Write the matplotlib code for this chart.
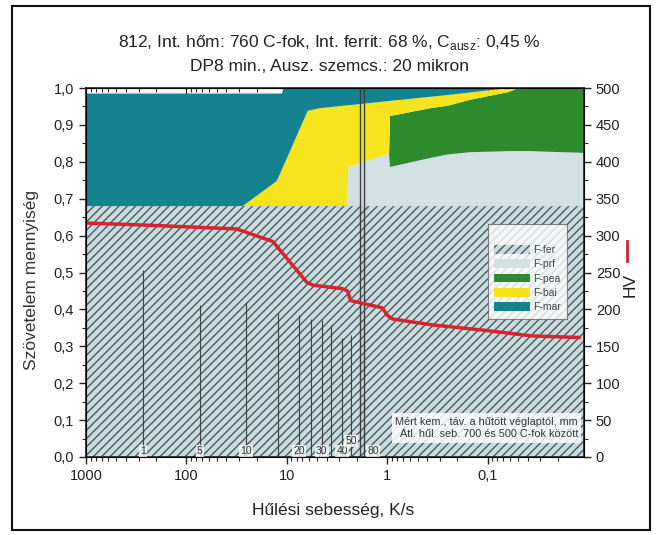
import matplotlib
matplotlib.use('Agg')
import matplotlib.pyplot as plt
from matplotlib.ticker import MultipleLocator, FuncFormatter, LogLocator, NullFormatter
from matplotlib.patches import Rectangle
from matplotlib.lines import Line2D

plt.rcParams['font.family'] = ['Liberation Sans', 'DejaVu Sans']
plt.rcParams['mathtext.fontset'] = 'custom'
plt.rcParams['mathtext.rm'] = 'Liberation Sans'
plt.rcParams['hatch.linewidth'] = 1.0

# cooling rate (K/s) and phase fractions
rate = [1000, 27.5, 12.6, 11.2, 10.8, 6.2, 4.8, 2.5, 2.45, 1.02, 0.96, 0.94,
        0.38, 0.25, 0.15, 0.06, 0.05, 0.038, 0.011]
fer = [0.68] * len(rate)
prf = [0, 0, 0, 0, 0, 0, 0, 0, 0.106, 0.14, 0.14, 0.106,
       0.13, 0.14, 0.146, 0.149, 0.149, 0.149, 0.144]
pea = [0, 0, 0, 0, 0, 0, 0, 0, 0, 0, 0, 0.138,
       0.135, 0.132, 0.142, 0.161, 0.171, 0.171, 0.176]
bai = [0, 0, 0.068, 0.099, 0.109, 0.258, 0.265, 0.273, 0.167, 0.144, 0.145, 0.041,
       0.031, 0.029, 0.02, 0.01, 0, 0, 0]
mar = [0.305, 0.305, 0.237, 0.206, 0.211, 0.062, 0.055, 0.047, 0.047, 0.036, 0.035, 0.035,
       0.024, 0.019, 0.012, 0, 0, 0, 0]
phase_names = ['F-fer', 'F-prf', 'F-pea', 'F-bai', 'F-mar']

# hardness curve
hv_rate = [1000, 231, 31.6, 13.8, 6.35, 5.55, 2.79, 2.49, 2.32, 1.12, 1.0, 0.89,
           0.356, 0.113, 0.036, 0.0123]
hv = [317, 314, 309, 292, 237, 233, 228, 225, 212, 202, 192, 187, 179, 172, 164, 162]

# jominy positions (mm), their cooling rate and measured hardness
jom_mm = [1, 5, 10, 15, 20, 25, 30, 35, 40, 50]
jom_rate = [271, 74, 25.7, 12.3, 7.6, 5.7, 4.5, 3.6, 2.8, 2.3]
jom_hv = [253, 206, 210, 195, 192, 187, 185, 179, 161, 165]
jom_labels = [1, 5, 10, 20, 30, 40, 50]
jom80_rate = [1.85, 1.69]

colors = ['#c8dcdf', '#d2dfe3', '#2d8a2d', '#f6e51e', '#15838f']

fig = plt.figure(figsize=(6.59, 5.35), dpi=100)
ax = fig.add_axes([0.1305, 0.1458, 0.7557, 0.6897])

polys = ax.stackplot(rate, fer, prf, pea, bai, mar, colors=colors,
                     labels=phase_names, linewidth=0)
polys[0].set_hatch('////')
polys[0].set_edgecolor('#4c5a60')
polys[0].set_linewidth(0)

ax.set_xscale('log')
ax.set_xlim(1000, 0.011)
ax.set_ylim(0, 1)

comma = lambda v, p: ('%g' % v).replace('.', ',')
ax.xaxis.set_major_locator(LogLocator(base=10))
ax.xaxis.set_major_formatter(FuncFormatter(comma))
ax.xaxis.set_minor_locator(LogLocator(base=10, subs=range(2, 10)))
ax.xaxis.set_minor_formatter(NullFormatter())
ax.yaxis.set_major_locator(MultipleLocator(0.1))
ax.yaxis.set_minor_locator(MultipleLocator(0.05))
ax.yaxis.set_major_formatter(FuncFormatter(lambda v, p: ('%.1f' % v).replace('.', ',')))
ax.tick_params(which='major', direction='out', length=5, width=1, labelsize=10.5, colors='#222')
ax.tick_params(which='minor', direction='out', length=3, width=0.8, colors='#222')

top = ax.secondary_xaxis('top')
top.tick_params(which='major', direction='in', length=5, labeltop=False)
top.tick_params(which='minor', direction='in', length=3)
top.xaxis.set_major_formatter(NullFormatter())

for s in ax.spines.values():
    s.set_linewidth(1.2)
    s.set_color('#222')

ax.set_ylabel('Szövetelem mennyiség', fontsize=12.5, color='#333')
ax.yaxis.set_label_coords(-0.095, 0.48)
ax.set_xlabel('Hűlési sebesség, K/s', fontsize=12.5, color='#222')
ax.xaxis.set_label_coords(0.496, -0.125)

ax2 = ax.twinx()
ax2.set_ylim(0, 500)
ax2.yaxis.set_major_locator(MultipleLocator(50))
ax2.yaxis.set_minor_locator(MultipleLocator(25))
ax2.tick_params(which='major', direction='out', length=5, width=1, labelsize=10.5, colors='#222')
ax2.tick_params(which='minor', direction='out', length=3, width=0.8, colors='#222')

ax2.vlines(jom_rate, 0, jom_hv, color='#3a3f42', lw=0.8)
ax2.vlines(jom80_rate, 0, 500, color='#3a3f42', lw=1.0)
for mm, r in zip(jom_mm, jom_rate):
    if mm in jom_labels:
        ax2.text(r, 22 if mm == 50 else 8, str(mm), fontsize=7.5, ha='center', va='center',
                 color='#333', bbox=dict(facecolor='white', alpha=0.75, edgecolor='none', pad=0.8))
ax2.text(jom80_rate[1] * 0.93, 8, '80', fontsize=7.5, ha='left', va='center', color='#333',
         bbox=dict(facecolor='white', alpha=0.75, edgecolor='none', pad=0.8))

ax2.plot(hv_rate, hv, color='#d8232c', lw=2.5)

ax2.set_ylabel('HV', fontsize=12.5, color='#222', rotation=90)
ax2.yaxis.set_label_coords(1.078, 0.465)
ax2.add_line(Line2D([1.086, 1.086], [0.53, 0.585], transform=ax2.transAxes,
                    color='#d8232c', lw=2, clip_on=False))

ax2.text(0.988, 0.048, 'Mért kem., táv. a hűtött véglaptól, mm\nÁtl. hűl. seb. 700 és 500 C-fok között',
         transform=ax2.transAxes, fontsize=7.8, ha='right', va='bottom', color='#333',
         linespacing=1.3,
         bbox=dict(facecolor='white', alpha=0.85, edgecolor='none', pad=2.5))

leg = ax2.legend(polys, phase_names, loc='upper left', bbox_to_anchor=(0.797, 0.645),
                 fontsize=7.5, frameon=True, fancybox=False, handlelength=3.4, handleheight=0.9,
                 borderpad=0.6, labelspacing=0.42, handletextpad=0.3, title=' ',
                 title_fontsize=7)
leg.get_frame().set_edgecolor('#666')
leg.get_frame().set_linewidth(0.8)
for t in leg.get_texts():
    t.set_color('#444')

fig.text(0.5, 0.92, '812, Int. hőm: 760 C-fok, Int. ferrit: 68 %, C$_{\\mathrm{ausz}}$: 0,45 %',
         ha='center', va='center', fontsize=12.5, color='#222')
fig.text(0.5, 0.875, 'DP8 min., Ausz. szemcs.: 20 mikron', ha='center', va='center',
         fontsize=12.5, color='#222')

fig.patches.append(Rectangle((0.018, 0.009), 0.968, 0.979, transform=fig.transFigure,
                             fill=False, edgecolor='#111', lw=1.5))

fig.savefig('out.png', dpi=100)
